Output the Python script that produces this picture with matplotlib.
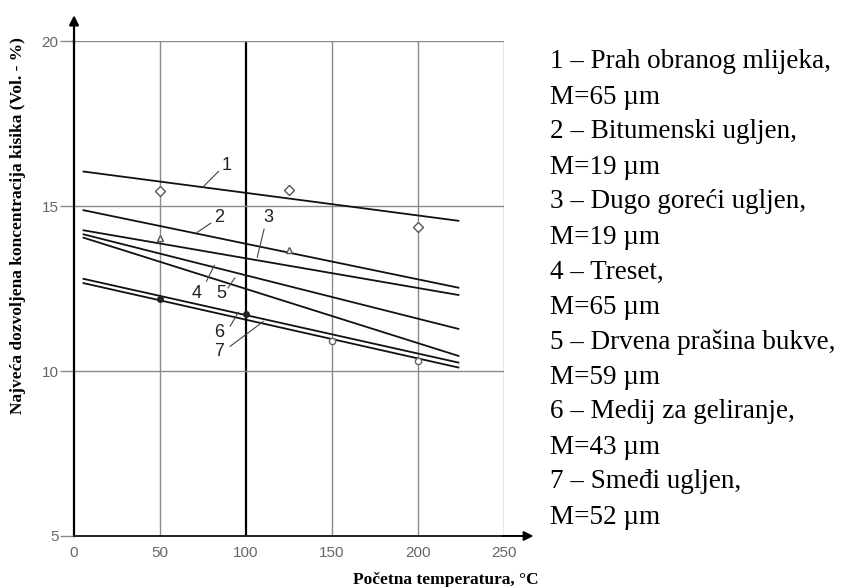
import matplotlib
matplotlib.use("Agg")
import matplotlib.pyplot as plt

# ---- data ----
x_range = [5, 224]
line_ids = ["1", "2", "3", "4", "5", "6", "7"]
y_start = [16.05, 14.88, 14.27, 14.15, 14.05, 12.80, 12.67]
y_end = [14.55, 12.52, 12.30, 11.27, 10.45, 10.25, 10.10]

diamond_x = [50, 125, 200]
diamond_y = [15.45, 15.50, 14.38]
triangle_x = [50, 125]
triangle_y = [14.02, 13.67]
dot_x = [50, 100]
dot_y = [12.18, 11.72]
circle_x = [150, 200]
circle_y = [10.92, 10.30]

legend_lines = [
    "1 \u2013 Prah obranog mlijeka,", "M=65 \u00b5m",
    "2 \u2013 Bitumenski ugljen,", "M=19 \u00b5m",
    "3 \u2013 Dugo gore\u0107i ugljen,", "M=19 \u00b5m",
    "4 \u2013 Treset,", "M=65 \u00b5m",
    "5 \u2013 Drvena pra\u0161ina bukve,", "M=59 \u00b5m",
    "6 \u2013 Medij za geliranje,", "M=43 \u00b5m",
    "7 \u2013 Sme\u0111i ugljen,", "M=52 \u00b5m",
]

xticks = [0, 50, 100, 150, 200, 250]
yticks = [5, 10, 15, 20]

# label positions (label, line point -> text point)
label_pos = {
    "1": ((75.0, 15.58), (84.0, 16.05), (88.5, 16.22)),
    "2": ((71.5, 14.20), (79.5, 14.48), (84.5, 14.64)),
    "3": ((106.5, 13.45), (110.5, 14.30), (113.0, 14.66)),
    "4": ((81.5, 13.20), (77.0, 12.72), (71.5, 12.36)),
    "5": ((93.5, 12.82), (89.5, 12.52), (85.5, 12.36)),
    "6": ((95.5, 11.78), (90.8, 11.36), (84.5, 11.16)),
    "7": ((110.0, 11.50), (90.8, 10.75), (84.5, 10.60)),
}

fig = plt.figure(figsize=(8.46, 5.87), dpi=100)
ax = fig.add_axes([0.0875, 0.0869, 0.5083, 0.8431])

ax.set_xlim(0, 250)
ax.set_ylim(5, 20)
ax.set_xticks(xticks)
ax.set_yticks(yticks)

grid_c = "#8a8a8a"
for xv in xticks[1:]:
    ax.axvline(xv, color="black" if xv == 100 else grid_c,
               lw=1.6 if xv == 100 else 1.0, zorder=1)
for yv in yticks[1:]:
    ax.axhline(yv, color=grid_c, lw=1.0, zorder=1)

for s in ["top", "right"]:
    ax.spines[s].set_visible(False)
ax.spines["left"].set_linewidth(1.6)
ax.spines["bottom"].set_linewidth(1.4)
ax.spines["left"].set_color("black")
ax.spines["bottom"].set_color("#222222")

ax.tick_params(axis="y", length=10, width=1.0, color=grid_c, pad=1,
               labelsize=11, labelcolor="#666666")
ax.tick_params(axis="x", length=0, pad=7, labelsize=11, labelcolor="#666666")
for t in ax.get_xticklabels() + ax.get_yticklabels():
    t.set_family("Liberation Sans")

# axis arrows
ax.annotate("", xy=(0, 1.058), xytext=(0, 0.99), xycoords="axes fraction",
            arrowprops=dict(arrowstyle="-|>", color="black", lw=1.6,
                            mutation_scale=14), annotation_clip=False)
ax.annotate("", xy=(1.075, 0), xytext=(0.99, 0), xycoords="axes fraction",
            arrowprops=dict(arrowstyle="-|>", color="black", lw=1.4,
                            mutation_scale=14), annotation_clip=False)

for lid, y0, y1 in zip(line_ids, y_start, y_end):
    ax.plot(x_range, [y0, y1], color="#111111", lw=1.3, zorder=3,
            solid_capstyle="butt")

ax.plot(diamond_x, diamond_y, ls="none", marker="D", ms=5, mfc="white",
        mec="#555555", mew=1.0, zorder=4)
ax.plot(triangle_x, triangle_y, ls="none", marker="^", ms=5, mfc="white",
        mec="#555555", mew=1.0, zorder=4)
ax.plot(dot_x, dot_y, ls="none", marker="o", ms=4, mfc="#222222",
        mec="#222222", zorder=4)
ax.plot(circle_x, circle_y, ls="none", marker="o", ms=4.5, mfc="white",
        mec="#666666", mew=1.0, zorder=4)

for lid, (p0, p1, tp) in label_pos.items():
    ax.plot([p0[0], p1[0]], [p0[1], p1[1]], color="#444444", lw=0.8, zorder=4)
    ax.text(tp[0], tp[1], lid, fontsize=13, color="#222222",
            family="Liberation Sans", ha="center", va="center", zorder=5)

fig.text(18 / 846, 1 - 226 / 587,
         "Najve\u0107a dozvoljena koncentracija kisika (Vol. - %)",
         family="Liberation Serif", fontweight="bold", fontsize=12.5,
         rotation=90, ha="center", va="center")
fig.text(446 / 846, 3 / 587, "Po\u010detna temperatura, \u00b0C",
         family="Liberation Serif", fontweight="bold", fontsize=12.5,
         ha="center", va="baseline")

for i, s in enumerate(legend_lines):
    fig.text(550 / 846, 1 - (62 + 35 * i) / 587, s, family="Liberation Serif",
             fontsize=19.5, color="black", ha="left", va="center")

fig.savefig("out.png", dpi=100)
